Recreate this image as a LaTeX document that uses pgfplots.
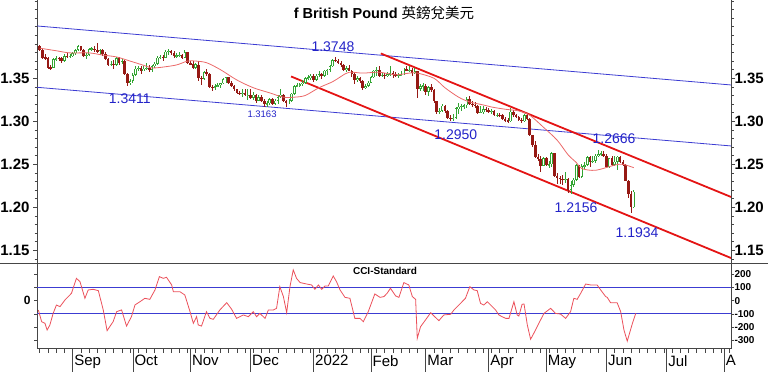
\documentclass[border=0pt]{standalone}
\usepackage{fontspec}
\setmainfont{Liberation Sans}
\newfontfamily\cjk{Noto Sans CJK TC}
\usepackage{pgfplots}
\usepackage{pgfplotstable}
\pgfplotsset{compat=1.18}
\definecolor{upgreen}{RGB}{50,165,50}
\definecolor{downred}{RGB}{150,25,20}
\definecolor{chanred}{RGB}{228,20,20}
\definecolor{chanblue}{RGB}{60,60,210}
\definecolor{lblblue}{RGB}{35,35,200}
\definecolor{mared}{RGB}{235,105,105}
\definecolor{ccired}{RGB}{235,80,90}
\definecolor{axgray}{RGB}{70,70,70}

\pgfplotstableread{
x o h l c
-12 1.3875 1.3890 1.3815 1.3830
-11 1.3830 1.3845 1.3725 1.3740
-10 1.3740 1.3780 1.3710 1.3735
-9 1.3735 1.3745 1.3605 1.3625
-8 1.3625 1.3660 1.3600 1.3620
-7 1.3620 1.3735 1.3615 1.3720
-6 1.3720 1.3760 1.3700 1.3735
-5 1.3735 1.3750 1.3705 1.3730
-4 1.3730 1.3750 1.3680 1.3700
-3 1.3700 1.3780 1.3685 1.3760
-2 1.3760 1.3790 1.3740 1.3755
-1 1.3755 1.3785 1.3730 1.3760
0 1.3760 1.3810 1.3745 1.3790
1 1.3790 1.3845 1.3775 1.3830
2 1.3830 1.3890 1.3815 1.3870
3 1.3870 1.3880 1.3815 1.3830
4 1.3830 1.3840 1.3745 1.3760
5 1.3760 1.3790 1.3725 1.3770
6 1.3770 1.3855 1.3755 1.3840
7 1.3840 1.3865 1.3820 1.3845
8 1.3845 1.3870 1.3800 1.3830
9 1.3830 1.3913 1.3795 1.3810
10 1.3810 1.3845 1.3770 1.3830
11 1.3830 1.3840 1.3760 1.3780
12 1.3780 1.3800 1.3710 1.3720
13 1.3720 1.3735 1.3645 1.3660
14 1.3660 1.3700 1.3640 1.3665
15 1.3665 1.3710 1.3610 1.3655
16 1.3655 1.3750 1.3640 1.3730
17 1.3730 1.3745 1.3660 1.3680
18 1.3680 1.3720 1.3665 1.3700
19 1.3700 1.3710 1.3540 1.3550
20 1.3550 1.3560 1.3411 1.3440
21 1.3440 1.3495 1.3420 1.3470
22 1.3470 1.3560 1.3450 1.3540
23 1.3540 1.3640 1.3530 1.3610
24 1.3610 1.3640 1.3580 1.3620
25 1.3620 1.3640 1.3545 1.3590
26 1.3590 1.3640 1.3580 1.3610
27 1.3610 1.3675 1.3600 1.3620
28 1.3620 1.3660 1.3575 1.3600
29 1.3600 1.3655 1.3570 1.3640
30 1.3640 1.3690 1.3620 1.3670
31 1.3670 1.3755 1.3660 1.3740
32 1.3740 1.3775 1.3725 1.3750
33 1.3750 1.3770 1.3700 1.3740
34 1.3740 1.3830 1.3730 1.3810
35 1.3810 1.3835 1.3770 1.3820
36 1.3820 1.3830 1.3770 1.3790
37 1.3790 1.3820 1.3740 1.3760
38 1.3760 1.3790 1.3735 1.3765
39 1.3765 1.3810 1.3745 1.3770
40 1.3770 1.3780 1.3720 1.3740
41 1.3740 1.3825 1.3730 1.3800
42 1.3800 1.3805 1.3670 1.3680
43 1.3680 1.3700 1.3650 1.3660
44 1.3660 1.3695 1.3605 1.3620
45 1.3620 1.3680 1.3605 1.3660
46 1.3660 1.3695 1.3470 1.3500
47 1.3500 1.3530 1.3425 1.3495
48 1.3495 1.3585 1.3480 1.3570
49 1.3570 1.3605 1.3530 1.3550
50 1.3550 1.3560 1.3390 1.3400
51 1.3400 1.3425 1.3355 1.3395
52 1.3395 1.3430 1.3360 1.3410
53 1.3410 1.3440 1.3395 1.3420
54 1.3420 1.3450 1.3385 1.3440
55 1.3440 1.3500 1.3430 1.3490
56 1.3490 1.3515 1.3450 1.3510
57 1.3510 1.3515 1.3430 1.3440
58 1.3440 1.3470 1.3400 1.3410
59 1.3410 1.3420 1.3355 1.3370
60 1.3370 1.3380 1.3320 1.3330
61 1.3330 1.3355 1.3310 1.3320
62 1.3320 1.3370 1.3280 1.3330
63 1.3330 1.3375 1.3290 1.3300
64 1.3300 1.3370 1.3250 1.3305
65 1.3305 1.3370 1.3260 1.3270
66 1.3270 1.3335 1.3250 1.3310
67 1.3310 1.3320 1.3210 1.3240
68 1.3240 1.3305 1.3230 1.3280
69 1.3280 1.3310 1.3220 1.3240
70 1.3240 1.3255 1.3163 1.3200
71 1.3200 1.3235 1.3170 1.3210
72 1.3210 1.3275 1.3190 1.3260
73 1.3260 1.3275 1.3190 1.3200
74 1.3200 1.3260 1.3185 1.3240
75 1.3240 1.3300 1.3200 1.3280
76 1.3280 1.3370 1.3270 1.3310
77 1.3310 1.3320 1.3220 1.3230
78 1.3230 1.3245 1.3170 1.3210
79 1.3210 1.3260 1.3200 1.3240
80 1.3240 1.3330 1.3225 1.3320
81 1.3320 1.3420 1.3300 1.3410
82 1.3410 1.3440 1.3400 1.3415
83 1.3415 1.3450 1.3395 1.3430
84 1.3430 1.3480 1.3415 1.3450
85 1.3450 1.3515 1.3430 1.3500
86 1.3500 1.3535 1.3475 1.3510
87 1.3510 1.3545 1.3485 1.3530
88 1.3530 1.3545 1.3460 1.3480
89 1.3480 1.3545 1.3470 1.3530
90 1.3530 1.3580 1.3510 1.3550
91 1.3550 1.3565 1.3490 1.3530
92 1.3530 1.3600 1.3510 1.3590
93 1.3590 1.3610 1.3540 1.3595
94 1.3595 1.3655 1.3570 1.3640
95 1.3640 1.3725 1.3630 1.3710
96 1.3710 1.3748 1.3690 1.3705
97 1.3705 1.3725 1.3660 1.3680
98 1.3680 1.3700 1.3635 1.3650
99 1.3650 1.3670 1.3590 1.3600
100 1.3600 1.3640 1.3575 1.3620
101 1.3620 1.3650 1.3580 1.3590
102 1.3590 1.3600 1.3520 1.3550
103 1.3550 1.3560 1.3435 1.3480
104 1.3480 1.3530 1.3460 1.3500
105 1.3500 1.3520 1.3450 1.3470
106 1.3470 1.3480 1.3358 1.3390
107 1.3390 1.3430 1.3370 1.3410
108 1.3410 1.3465 1.3400 1.3450
109 1.3450 1.3530 1.3440 1.3510
110 1.3510 1.3600 1.3505 1.3590
111 1.3590 1.3630 1.3530 1.3600
112 1.3600 1.3640 1.3520 1.3530
113 1.3530 1.3560 1.3510 1.3535
114 1.3535 1.3560 1.3495 1.3530
115 1.3530 1.3570 1.3515 1.3550
116 1.3550 1.3645 1.3530 1.3560
117 1.3560 1.3580 1.3500 1.3555
118 1.3555 1.3575 1.3510 1.3530
119 1.3530 1.3560 1.3500 1.3540
120 1.3540 1.3590 1.3525 1.3545
121 1.3545 1.3620 1.3535 1.3610
122 1.3610 1.3645 1.3580 1.3590
123 1.3590 1.3640 1.3570 1.3595
124 1.3595 1.3620 1.3530 1.3560
125 1.3560 1.3615 1.3550 1.3580
126 1.3580 1.3590 1.3273 1.3380
127 1.3380 1.3430 1.3355 1.3410
128 1.3410 1.3440 1.3350 1.3415
129 1.3415 1.3430 1.3300 1.3340
130 1.3340 1.3415 1.3290 1.3400
131 1.3400 1.3435 1.3345 1.3360
132 1.3360 1.3370 1.3210 1.3230
133 1.3230 1.3240 1.3085 1.3110
134 1.3110 1.3160 1.3090 1.3120
135 1.3120 1.3205 1.3110 1.3180
136 1.3180 1.3190 1.3100 1.3120
137 1.3120 1.3130 1.3030 1.3040
138 1.3040 1.3075 1.3005 1.3030
139 1.3030 1.3080 1.3000 1.3040
140 1.3040 1.3165 1.3030 1.3150
141 1.3150 1.3210 1.3090 1.3170
142 1.3170 1.3200 1.3120 1.3180
143 1.3180 1.3205 1.3140 1.3185
144 1.3185 1.3280 1.3160 1.3260
145 1.3260 1.3298 1.3190 1.3200
146 1.3200 1.3240 1.3165 1.3190
147 1.3190 1.3220 1.3150 1.3180
148 1.3180 1.3190 1.3090 1.3100
149 1.3100 1.3180 1.3095 1.3110
150 1.3110 1.3175 1.3090 1.3140
151 1.3140 1.3170 1.3110 1.3135
152 1.3135 1.3150 1.3100 1.3110
153 1.3110 1.3140 1.3090 1.3120
154 1.3120 1.3135 1.3060 1.3070
155 1.3070 1.3100 1.3050 1.3075
156 1.3075 1.3095 1.3050 1.3070
157 1.3070 1.3085 1.3010 1.3030
158 1.3030 1.3050 1.2995 1.3010
159 1.3010 1.3035 1.2975 1.3000
160 1.3000 1.3150 1.2990 1.3110
161 1.3110 1.3135 1.3050 1.3070
162 1.3070 1.3085 1.3040 1.3050
163 1.3050 1.3060 1.3000 1.3020
164 1.3020 1.3040 1.2975 1.3000
165 1.3000 1.3090 1.2990 1.3070
166 1.3070 1.3090 1.3010 1.3030
167 1.3030 1.3040 1.2830 1.2840
168 1.2840 1.2845 1.2705 1.2720
169 1.2720 1.2770 1.2575 1.2580
170 1.2580 1.2615 1.2540 1.2560
171 1.2560 1.2595 1.2410 1.2480
172 1.2480 1.2590 1.2475 1.2570
173 1.2570 1.2580 1.2480 1.2490
174 1.2490 1.2540 1.2460 1.2500
175 1.2500 1.2640 1.2465 1.2630
176 1.2630 1.2635 1.2355 1.2360
177 1.2360 1.2400 1.2275 1.2340
178 1.2340 1.2365 1.2275 1.2330
179 1.2330 1.2380 1.2260 1.2320
180 1.2320 1.2405 1.2285 1.2330
181 1.2330 1.2335 1.2165 1.2200
182 1.2200 1.2300 1.2156 1.2260
183 1.2260 1.2335 1.2230 1.2320
184 1.2320 1.2500 1.2310 1.2490
185 1.2490 1.2495 1.2335 1.2350
186 1.2350 1.2505 1.2340 1.2480
187 1.2480 1.2525 1.2440 1.2490
188 1.2490 1.2600 1.2480 1.2580
189 1.2580 1.2600 1.2470 1.2530
190 1.2530 1.2600 1.2510 1.2540
191 1.2540 1.2625 1.2520 1.2600
192 1.2600 1.2666 1.2590 1.2620
193 1.2620 1.2660 1.2595 1.2625
194 1.2625 1.2655 1.2580 1.2600
195 1.2600 1.2620 1.2460 1.2470
196 1.2470 1.2575 1.2460 1.2570
197 1.2570 1.2600 1.2480 1.2490
198 1.2490 1.2600 1.2480 1.2530
199 1.2530 1.2600 1.2430 1.2590
200 1.2590 1.2600 1.2510 1.2530
201 1.2530 1.2550 1.2480 1.2490
202 1.2490 1.2500 1.2300 1.2310
203 1.2310 1.2320 1.2110 1.2160
204 1.2160 1.2190 1.1934 1.2000
205 1.2000 1.2205 1.1990 1.2180
}\candles

\begin{document}
\begin{tikzpicture}
\draw[axgray, line width=0.8pt] (0pt,109pt) -- (768pt,109pt);

% ---------- main price panel ----------
\begin{axis}[at={(37pt,109pt)}, anchor=south west, scale only axis,
  width=694pt, height=263pt,
  xmin=-13, xmax=240.5, ymin=1.1352, ymax=1.4410,
  separate axis lines, x axis line style={draw=none},
  y axis line style={draw=axgray, line width=0.6pt},
  xtick=\empty,
  ytick={1.15,1.20,1.25,1.30,1.35},
  yticklabels={1.15,1.20,1.25,1.30,1.35},
  minor ytick={1.14,1.15,...,1.44},
  ytick pos=both, yticklabel pos=left,
  tick align=outside, major tick length=4pt, minor tick length=2.5pt,
  tick style={axgray, line width=0.5pt},
  yticklabel style={font=\bfseries\fontsize{15}{15}\selectfont},
]
% channels
\addplot[chanblue, line width=0.8pt] coordinates {(-13,1.4108) (240.5,1.3422)};
\addplot[chanblue, line width=0.8pt] coordinates {(-13,1.3395) (240.5,1.2713)};
\addplot[chanred, line width=1.8pt] coordinates {(112.6,1.3788) (240.5,1.2120)};
\addplot[chanred, line width=1.8pt] coordinates {(79.8,1.3521) (240.5,1.1410)};
% wicks
\addplot[draw=none, mark=none, error bars/.cd, y dir=both, y explicit, error mark=none,
  error bar style={draw=upgreen, line width=0.7pt}]
  table[x=x, y expr={\thisrow{c}>=\thisrow{o} ? (\thisrow{h}+\thisrow{l})/2 : nan},
        y error expr={(\thisrow{h}-\thisrow{l})/2}] {\candles};
\addplot[draw=none, mark=none, error bars/.cd, y dir=both, y explicit, error mark=none,
  error bar style={draw=downred, line width=0.7pt}]
  table[x=x, y expr={\thisrow{c}<\thisrow{o} ? (\thisrow{h}+\thisrow{l})/2 : nan},
        y error expr={(\thisrow{h}-\thisrow{l})/2}] {\candles};
% bodies
\addplot[draw=none, mark=none, error bars/.cd, y dir=both, y explicit, error mark=none,
  error bar style={draw=upgreen, line width=2.6pt}]
  table[x=x, y expr={\thisrow{c}>=\thisrow{o} ? (\thisrow{o}+\thisrow{c})/2 : nan},
        y error expr={max((\thisrow{c}-\thisrow{o})/2,0.0004)}] {\candles};
\addplot[draw=none, mark=none, error bars/.cd, y dir=both, y explicit, error mark=none,
  error bar style={draw=white, line width=1.0pt}]
  table[x=x, y expr={\thisrow{c}>=\thisrow{o} ? (\thisrow{o}+\thisrow{c})/2 : nan},
        y error expr={max((\thisrow{c}-\thisrow{o})/2-0.0008,0.00001)}] {\candles};
\addplot[draw=none, mark=none, error bars/.cd, y dir=both, y explicit, error mark=none,
  error bar style={draw=downred, line width=2.6pt}]
  table[x=x, y expr={\thisrow{c}<\thisrow{o} ? (\thisrow{o}+\thisrow{c})/2 : nan},
        y error expr={max((\thisrow{o}-\thisrow{c})/2,0.0004)}] {\candles};
% moving average
\addplot[mared, line width=0.8pt, smooth, tension=0.5] coordinates {
(-12,1.385) (-6,1.382) (-1,1.3795) (6,1.3795) (11,1.377) (16,1.3748) (21,1.370)
(26,1.365) (29,1.362) (33,1.363) (38,1.3655) (42,1.370) (45,1.370) (49,1.368)
(54,1.360) (60,1.348) (66,1.339) (72,1.333) (77,1.328) (81,1.328) (85,1.330)
(90,1.339) (95,1.346) (98,1.352) (101,1.357) (106,1.356) (112,1.357) (118,1.354)
(123,1.356) (126,1.356) (132,1.350) (136,1.339) (141,1.328) (145,1.3225)
(150,1.319) (153,1.3166) (158,1.314) (163,1.312) (167,1.307) (172,1.293)
(177,1.278) (181,1.261) (184,1.252) (186,1.245) (191,1.243) (198,1.249)
(201,1.250) (205,1.246)};
% labels
\node[text=lblblue, font=\fontsize{14}{14}\selectfont] at (axis cs:95.1,1.3864) {1.3748};
\node[text=lblblue, font=\fontsize{14}{14}\selectfont] at (axis cs:20.9,1.3259) {1.3411};
\node[text=lblblue, font=\fontsize{9.5}{9.5}\selectfont] at (axis cs:69.2,1.3085) {1.3163};
\node[text=lblblue, font=\fontsize{14}{14}\selectfont] at (axis cs:140.0,1.2841) {1.2950};
\node[text=lblblue, font=\fontsize{14}{14}\selectfont] at (axis cs:197.8,1.2794) {1.2666};
\node[text=lblblue, font=\fontsize{14}{14}\selectfont] at (axis cs:183.9,1.1992) {1.2156};
\node[text=lblblue, font=\fontsize{14}{14}\selectfont] at (axis cs:206.2,1.1701) {1.1934};
\end{axis}

% right-side labels of the main panel
\begin{axis}[at={(37pt,109pt)}, anchor=south west, scale only axis,
  width=694pt, height=263pt,
  xmin=-13, xmax=240.5, ymin=1.1352, ymax=1.4410,
  axis line style={draw=none}, xtick=\empty,
  ytick={1.15,1.20,1.25,1.30,1.35},
  yticklabels={1.15,1.20,1.25,1.30,1.35},
  ytick style={draw=none}, yticklabel pos=right,
  yticklabel style={font=\bfseries\fontsize{15}{15}\selectfont},
]
\addplot[draw=none] coordinates {(0,1.2)};
\end{axis}

% ---------- CCI panel ----------
\begin{axis}[at={(37pt,24pt)}, anchor=south west, scale only axis,
  width=694pt, height=85pt,
  xmin=-13, xmax=240.5, ymin=-358, ymax=285,
  axis line style={draw=axgray, line width=0.6pt},
  xtick=\empty,
  ytick={-300,-200,-100,0,100,200},
  yticklabels={,,,0,,},
  ytick pos=both, yticklabel pos=left,
  tick align=outside, major tick length=3pt,
  tick style={axgray, line width=0.5pt},
  yticklabel style={font=\bfseries\fontsize{12}{12}\selectfont},
]
\addplot[chanblue, line width=0.8pt] coordinates {(-13,100) (240.5,100)};
\addplot[chanblue, line width=0.8pt] coordinates {(-13,-100) (240.5,-100)};
\addplot[ccired, line width=0.8pt] coordinates {
(-12.5,-71) (-11.3,-159) (-10.1,-171) (-9.3,-222) (-8.3,-184) (-7.1,-96) (-5.9,-33)
(-4.6,-45) (-2.8,5) (-1.0,43) (-0.4,56) (1.4,169) (2.7,144) (4.5,18) (5.7,81)
(7.5,86) (9.4,76) (11.2,-70) (12.6,-227) (14.8,-159) (16.1,-83) (17.9,-70)
(19.7,-192) (21.5,-121) (22.8,-32) (24.6,-8) (26.4,18) (28.2,10) (30.1,81)
(31.7,182) (33.1,169) (34.3,177) (36.2,119) (36.8,68) (39.2,68) (41.0,43)
(42.9,-83) (44.1,-171) (45.3,-121) (45.9,-184) (47.1,-192) (48.9,-83) (50.2,-134)
(51.4,-141) (53.8,-70) (56.3,-15) (58.1,-65) (59.9,-134) (62.4,-108) (64.2,-121)
(66.0,-83) (67.2,-121) (68.4,-96) (70.3,-134) (71.5,-71) (73.3,-71) (74.5,-58)
(75.7,106) (77.0,31) (78.2,-91) (79.4,106) (80.6,233) (81.8,169) (83.1,137)
(85.5,126) (87.3,119) (88.5,86) (89.8,119) (91.0,86) (92.2,111) (93.4,111)
(95.2,187) (96.4,144) (97.7,81) (99.5,25) (101.3,18) (103.1,-134) (105.0,-134)
(106.2,-159) (108.0,-83) (110.4,51) (112.3,25) (113.7,31) (114.9,56) (116.1,94)
(118.0,36) (119.2,25) (121.0,137) (122.8,119) (124.1,31) (125.3,10) (125.9,-285)
(127.1,-197) (128.9,-146) (130.8,-91) (132.0,-116) (133.8,-151) (135.6,-108)
(138.1,-103) (139.3,-70) (141.7,-20) (143.5,18) (145.1,106) (146.6,81) (147.8,76)
(149.0,-20) (150.2,-33) (151.5,-8) (153.3,-45) (154.5,-70) (155.7,-108) (156.9,-121)
(158.2,-134) (159.4,-134) (161.2,-8) (162.4,-108) (163.0,-116) (164.2,-27)
(164.9,-25) (166.1,-184) (167.3,-292) (169.1,-222) (170.3,-171) (172.2,-96)
(174.6,-58) (176.4,-96) (178.2,-101) (180.1,-134) (181.9,-83) (183.1,18)
(184.3,10) (185.6,56) (187.4,126) (189.2,119) (191.6,119) (192.9,81) (194.7,31)
(195.3,25) (196.5,-15) (198.9,-15) (200.2,-83) (201.4,-222) (202.6,-306)
(204.5,-171) (205.7,-96)};
\end{axis}

% right labels of the CCI panel
\begin{axis}[at={(37pt,24pt)}, anchor=south west, scale only axis,
  width=694pt, height=85pt,
  xmin=-13, xmax=240.5, ymin=-358, ymax=285,
  axis line style={draw=none}, xtick=\empty,
  ytick={-300,-200,-100,0,100,200},
  yticklabels={-300,-200,-100,0,100,200},
  ytick style={draw=none}, yticklabel pos=right,
  yticklabel style={font=\bfseries\fontsize{10}{10}\selectfont},
]
\addplot[draw=none] coordinates {(0,0)};
\end{axis}

% time axis
\begin{axis}[at={(37pt,24pt)}, anchor=south west, scale only axis,
  width=694pt, height=85pt,
  xmin=-13, xmax=240.5, ymin=-358, ymax=285,
  axis line style={draw=none}, ytick=\empty,
  xtick={0,22,43,65,88,109,129,152,173,195,217,238},
  xticklabels={Sep,Oct,Nov,Dec,2022,Feb,Mar,Apr,May,Jun,Jul,A},
  minor xtick={-12,-9,...,240},
  xtick pos=left, tick align=outside,
  major tick length=24pt, minor tick length=5pt,
  tick style={axgray, line width=0.6pt},
  xticklabel style={font=\fontsize{15}{15}\selectfont, anchor=north west, inner sep=0pt, xshift=1.5pt, yshift=17pt},
]
\addplot[draw=none] coordinates {(0,0)};
\end{axis}

\node[font=\fontsize{14.5}{14.5}\selectfont] at (384pt,359pt) {\textbf{f British Pound} {\cjk 英鎊兌美元}};
\node[font=\bfseries\fontsize{10}{10}\selectfont] at (385pt,101pt) {CCI-Standard};
\pgfresetboundingbox
\path[use as bounding box] (0pt,0pt) rectangle (768pt,372pt);
\end{tikzpicture}
\end{document}
